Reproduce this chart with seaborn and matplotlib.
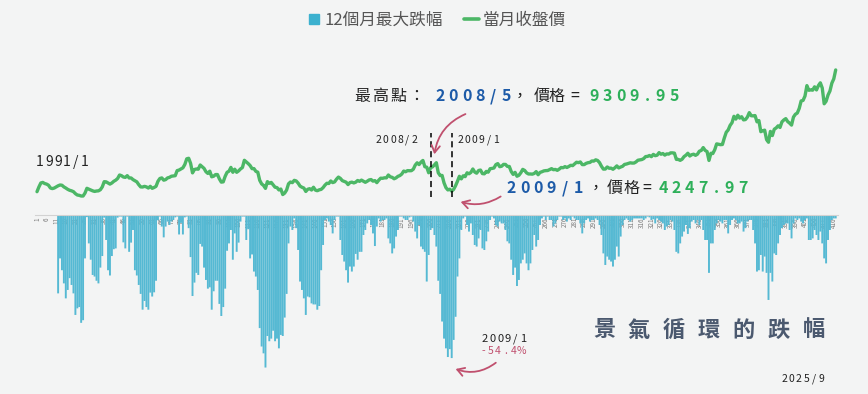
import numpy as np
import seaborn as sns
import matplotlib.pyplot as plt
from matplotlib.lines import Line2D
from matplotlib.patches import FancyArrowPatch

# monthly close, 1991/1 .. 2025/9 (one line per year)
close = [
    4150, 5000, 5700, 5800, 5600, 5500, 5300, 4800, 4700, 4800, 5000, 5200,
    5340, 5300, 5000, 4800, 4570, 4400, 4300, 4150, 3800, 3560, 3500, 3380,
    3380, 3900, 4750, 4600, 4450, 4300, 4200, 4270, 4300, 4500, 5000, 5930,
    5900, 5700, 5500, 5700, 6000, 6200, 6500, 7120, 7000, 6760, 6700, 7000,
    6590, 6600, 6300, 6100, 5900, 5400, 5000, 4980, 5100, 5000, 4800, 5100,
    4750, 4900, 5100, 6000, 6500, 6600, 6200, 6300, 6600, 6700, 6900, 6950,
    7000, 7900, 8000, 8200, 8400, 9000, 10000, 10100, 9200, 7500, 8100, 8190,
    8150, 8900, 8600, 8300, 7700, 7400, 7800, 6800, 6900, 7200, 7200, 6420,
    5850, 5900, 6880, 7600, 7800, 8470, 7600, 8150, 7600, 7850, 8200, 8450,
    9740, 9440, 9150, 8800, 8250, 8260, 7770, 7620, 6180, 5540, 5260, 4740,
    5940, 5650, 5800, 5380, 4940, 4880, 4460, 4620, 3640, 3900, 4440, 5550,
    5870, 5760, 6170, 6060, 5680, 5150, 4940, 4800, 4190, 4580, 4680, 4450,
    4940, 4430, 4320, 4480, 4560, 4870, 5320, 5650, 5610, 6050, 5770, 5890,
    6380, 6750, 6520, 6120, 5980, 5840, 5420, 5770, 5850, 5710, 5840, 6140,
    5990, 6210, 6010, 5820, 6010, 6240, 6310, 6030, 6120, 5760, 6200, 6550,
    6530, 6620, 6610, 7120, 6800, 6700, 6450, 6610, 6880, 7020, 7290, 7820,
    7700, 7900, 7880, 7890, 8150, 8880, 9290, 8980, 9410, 9710, 8590, 8510,
    7520, 8410, 8570, 8920, 9309.95, 7520, 7020, 7050, 5720, 4870, 4460, 4590,
    4247.97, 4560, 5210, 6000, 6890, 6430, 6980, 6830, 7510, 7340, 7580, 8190,
    7640, 7440, 7920, 8000, 7370, 7330, 7760, 7620, 8240, 8290, 8370, 8970,
    9150, 8600, 8680, 9010, 9000, 8650, 8640, 7740, 7230, 7590, 6900, 7070,
    7520, 8120, 7930, 7500, 7300, 7300, 7270, 7400, 7720, 7170, 7580, 7700,
    7850, 7900, 7920, 8090, 8250, 8060, 8110, 7950, 8170, 8450, 8410, 8610,
    8460, 8640, 8850, 8790, 9080, 9390, 9320, 9440, 8970, 8970, 9190, 9310,
    9360, 9620, 9590, 9820, 9700, 9320, 8670, 8170, 8180, 8550, 8320, 8340,
    8140, 8410, 8740, 8380, 8540, 8670, 9000, 9070, 9170, 9290, 9240, 9250,
    9450, 9750, 9810, 9870, 10040, 10400, 10430, 10590, 10380, 10790, 10560, 10640,
    11100, 10820, 10940, 10660, 10880, 10840, 11060, 11060, 11010, 9900, 9890, 9730,
    9930, 10390, 10640, 10990, 10500, 10730, 10820, 10620, 10830, 11360, 11490, 12000,
    11500, 11290, 9710, 10990, 10940, 11620, 12660, 12590, 12520, 12550, 13720, 14730,
    15140, 15950, 16430, 17570, 17070, 17760, 17250, 17490, 16930, 16990, 17430, 18220,
    17670, 17650, 17700, 16590, 16810, 14830, 15000, 15100, 13420, 12950, 14880, 14140,
    15270, 15500, 15870, 15580, 16580, 16920, 17150, 16630, 16350, 16000, 17430, 17930,
    18150, 18970, 20300, 20400, 21170, 23030, 22200, 22270, 22220, 22820, 22260, 23040,
    23530, 22600, 19800, 20240, 21350, 22070, 23470, 24230, 25820,
]

# 12-month max drop in %, same months (first 11 months have no value)
nan = float('nan')
drop = [
    nan, nan, nan, nan, nan, nan, nan, nan, nan, nan, nan, 29.8,
    16.5, 21, 26, 31.7, 28.5, 24, 26.6, 29.8, 38, 35.5, 35, 41,
    40, 16.5, 0.8, 10.8, 17, 22.8, 23.4, 25, 26, 20, 15.6, 1,
    9.5, 21, 23, 15.6, 13, 12.7, 1, 0.6, 0.6, 10.4, 12.7, 0.6,
    14, 10.5, 5.7, 21, 23, 26.6, 30, 36, 32.7, 35, 36, 29.5,
    31, 29.4, 25, 2, 0.6, 4.4, 8.5, 4.4, 2.5, 3.8, 2.5, 1.9,
    0.9, 0.6, 7.4, 3, 7.4, 0.9, 0.6, 5, 16, 30.8, 25.7, 22,
    22.8, 11, 12, 20, 24.7, 28, 27.5, 36, 29, 25, 25, 33.8,
    38.4, 35, 28, 13.6, 10.8, 5.7, 17, 7, 14, 10.5, 2.5, 0.6,
    0.6, 9.5, 5.4, 16.5, 15, 21.5, 23.4, 28.5, 43, 50, 52.6, 58,
    46, 48, 47, 44, 48, 47, 50.7, 45.6, 46, 39, 30, 10.8,
    4.4, 5.7, 1.3, 5, 13.3, 25.3, 28.5, 31.7, 38, 31, 31.3, 33.6,
    34, 34, 36, 34.6, 21, 11.4, 1.9, 1.3, 2.5, 3.8, 7, 1.9,
    0.6, 0.6, 9.5, 15.2, 17.7, 21, 25.7, 19.6, 21.5, 19.6, 14.8, 17,
    14, 14, 7.6, 5.7, 3.2, 1.9, 3.8, 7, 11.8, 4.4, 1.3, 2.5,
    1.9, 1.9, 1.3, 8.9, 10.8, 14.6, 12.7, 8.2, 5.7, 0.6, 0.6, 1.3,
    1.9, 1.9, 0.9, 0.6, 2.5, 6.3, 8.9, 3.8, 12, 13, 14, 25.3,
    15.2, 5.7, 5, 7.6, 12, 25, 30, 40.5, 47, 50.7, 54, 51,
    54.4, 47.5, 38.7, 23.4, 16.5, 5.7, 1.3, 0.6, 3.8, 6.3, 3.2, 7.6,
    11.4, 12, 8.9, 5.7, 12.7, 13.3, 10, 6.3, 1.9, 0.6, 1.3, 3.8,
    4.4, 2.5, 3.2, 3.2, 5.7, 10, 10.8, 17, 22.8, 20, 27, 24.7,
    18.4, 17, 14.6, 18.4, 21, 18.4, 13.3, 7.6, 12, 9.5, 3.8, 1.3,
    0.6, 1.9, 0.6, 1.9, 1.9, 4.4, 3.2, 1.9, 0.6, 0.6, 1.9, 1.3,
    2.5, 1.3, 1.9, 0.6, 1.3, 1.9, 1.9, 3.2, 7, 3.2, 1.9, 1.3,
    2.5, 1.9, 1.9, 1.3, 1.9, 3.8, 7.6, 14.6, 19, 15.8, 17, 17.7,
    19.6, 17, 12, 15.8, 8.2, 3.8, 1.9, 1.3, 1.9, 2.5, 1.9, 1.3,
    1.3, 1.3, 1.3, 1.3, 1.9, 1.3, 0.6, 0.9, 1.9, 1.6, 3.2, 1.3,
    1.9, 2.5, 3.2, 5.7, 4.4, 3.8, 1.9, 2.5, 5.7, 14, 14.6, 10.8,
    8.2, 6.3, 3.8, 7.2, 5, 2.5, 1.9, 3.2, 1.9, 3.8, 1.9, 5.7,
    9.5, 9.5, 22, 10.8, 10.8, 5.7, 3.2, 1.9, 2.5, 3.2, 1.9, 1.9,
    7, 3.8, 1.9, 1.3, 1.9, 3.2, 3.2, 2.5, 6.3, 5, 2.5, 1.9,
    1.9, 5.7, 10.8, 21.5, 21, 15.2, 21.5, 15.8, 22, 32.3, 22, 25.3,
    14.6, 15.2, 10.8, 7.6, 5, 3.8, 3.2, 3.2, 5.7, 8.9, 3.2, 1.3,
    1.9, 1.3, 2.5, 3.2, 1.9, 1.3, 9.5, 9.5, 8.9, 5.7, 7.6, 9.5,
    6.3, 10.8, 16.5, 18.4, 9.5, 5.7, 1.9, 1.3, 1.3,
]

months = [f'{1991 + i // 12}/{i % 12 + 1}' for i in range(len(close))]
idx = np.arange(len(close))
tick_pos = idx[::5]
tick_lab = [str(i + 1) for i in tick_pos]

BG = '#f3f4f4'
BAR = '#55b9d3'
GREEN = '#4cb766'
BLUE = '#1d5ba8'
TGREEN = '#2eb05a'
RED = '#c0506e'
DARK = '#222222'

sns.set_theme(style='white')
plt.rcParams['font.family'] = ['Noto Sans CJK TC', 'DejaVu Sans']

W, H = 868, 394
fig = plt.figure(figsize=(W / 100, H / 100), dpi=100, facecolor=BG)
# axes from pixel x 35..838, y 30..380 (top-down)
ax = fig.add_axes([35 / W, 1 - 380 / H, (838 - 35) / W, 350 / H])
ax.set_facecolor(BG)

sns.barplot(x=idx, y=[-d for d in drop], color=BAR, width=1.0, errorbar=None,
            saturation=1, linewidth=0, edgecolor='none', ax=ax)
for p in ax.patches:
    p.set_facecolor(BAR)
    p.set_edgecolor('none')
    p.set_snap(False)
ax.set_xlim(-1.04, 417.2)
# zero at pixel 215, 2.63 px per %
ax.set_ylim(-(380 - 215) / 2.63, (215 - 30) / 2.63)
ax.set_xticks(tick_pos)
ax.set_xticklabels(tick_lab)
ax.tick_params(axis='x', length=0, pad=1.5, labelsize=4.5, labelcolor='#7a7a7a',
               labelrotation=90)
ax.set_yticks([])
ax.set_xlabel('')
ax.set_ylabel('')
for s in ['top', 'left', 'right']:
    ax.spines[s].set_visible(False)
ax.spines['bottom'].set_position(('data', 0))
ax.spines['bottom'].set_color('#d2d2d2')
ax.spines['bottom'].set_linewidth(0.8)

ax2 = ax.twinx()
sns.lineplot(x=idx, y=close, color=GREEN, linewidth=2.4, ax=ax2)
# zero at pixel 215, 178 points per px
ax2.set_ylim(-(380 - 215) * 178, (215 - 30) * 178)
ax2.set_yticks([])
ax2.set_ylabel('')
for s in ax2.spines.values():
    s.set_visible(False)

# dashed markers at 2008/2 and 2009/1
for m in ['2008/2', '2009/1']:
    ax2.vlines(months.index(m), (215 - 197) * 178, (215 - 133) * 178,
               colors='black', linestyles=(0, (4, 2.5)), linewidth=1.1)


def fx(x):
    return x / W


def fy(y):
    return 1 - y / H


def spaced(x0, y, text, step, ha='center', **kw):
    for i, ch in enumerate(text):
        fig.text(fx(x0 + i * step), fy(y), ch, ha=ha, va='center', **kw)


# headline annotation
spaced(362, 96, '最高點', 18.3, color=DARK, fontsize=11.5)
spaced(416, 96, '：', 1, color=DARK, fontsize=11.5)
spaced(440, 96, '2008/5', 13.3, color=BLUE, fontsize=11.5, fontweight='bold')
spaced(528, 96, '，', 1, ha='right', color=DARK, fontsize=11.5)
spaced(542, 96, '價格', 14.5, color=DARK, fontsize=11.5)
spaced(575, 96, '=', 1, color=DARK, fontsize=11.5)
spaced(594, 96, '9309.95', 13.3, color=TGREEN, fontsize=11.5, fontweight='bold')

spaced(511.5, 188, '2009/1', 13.3, color=BLUE, fontsize=11.5, fontweight='bold')
spaced(604, 188, '，', 1, ha='right', color=DARK, fontsize=11.5)
spaced(615, 188, '價格', 16, color=DARK, fontsize=11.5)
spaced(647, 188, '=', 1, color=DARK, fontsize=11.5)
spaced(663, 188, '4247.97', 13.3, color=TGREEN, fontsize=11.5, fontweight='bold')

spaced(378.5, 140, '2008/2', 7.2, color=DARK, fontsize=7.5)
spaced(460, 140, '2009/1', 7.2, color=DARK, fontsize=7.5)
spaced(40, 162, '1991/1', 9, color=DARK, fontsize=10)

spaced(485, 339, '2009/1', 7.6, color=DARK, fontsize=8)
spaced(483, 351, '-54.4%', 7.6, color=RED, fontsize=7.5)

spaced(604, 330, '景氣循環的跌幅', 35, color='#4b596f', fontsize=16, fontweight='bold')
spaced(784, 379, '2025/9', 7.4, color=DARK, fontsize=7.5)

# curved arrows
for a, b, rad in [((468, 113), (434, 157), 0.3),
                  ((503, 195), (458, 201), -0.25),
                  ((498, 361), (453, 368), -0.3)]:
    arr = FancyArrowPatch((fx(a[0]), fy(a[1])), (fx(b[0]), fy(b[1])),
                          transform=fig.transFigure,
                          connectionstyle=f'arc3,rad={rad}',
                          arrowstyle='->,head_length=5,head_width=3',
                          color=RED, linewidth=1.3)
    fig.patches.append(arr)

# legend
handles = [Line2D([0], [0], marker='s', linestyle='', color='#3cb1cf', markersize=6.5),
           Line2D([0], [0], color=GREEN, linewidth=2.6)]
fig.legend(handles, ['12個月最大跌幅', '當月收盤價'], loc='center',
           bbox_to_anchor=(fx(436), fy(20)), ncol=2, frameon=False, fontsize=12,
           labelcolor='#555555', handlelength=0.9, handletextpad=0.2,
           columnspacing=1.3)

fig.savefig('out.png', dpi=100, facecolor=BG)
